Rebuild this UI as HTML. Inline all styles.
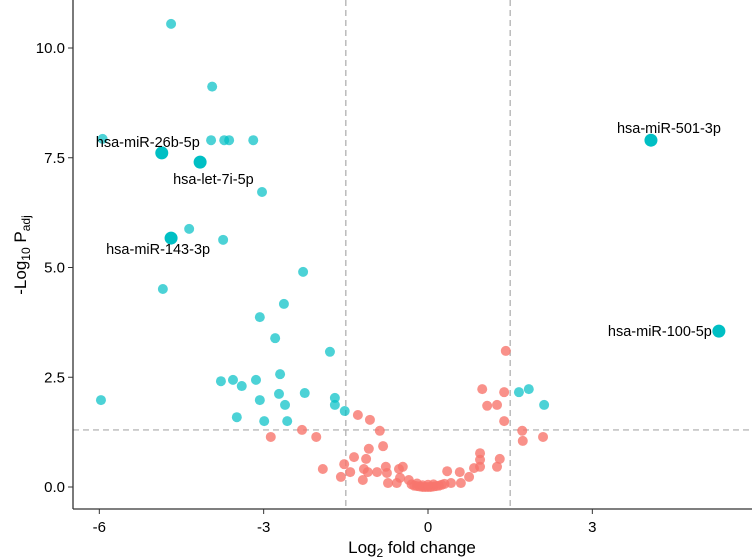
<!DOCTYPE html>
<html><head><meta charset="utf-8"><style>
body{margin:0;background:#fff}
svg{display:block;font-family:"Liberation Sans",Arial,sans-serif}
</style></head><body>
<svg id="chart" width="752" height="558">
<g id="grid"></g><g id="pts"></g><g id="axes"></g><g id="labels"></g>
<text x="412" y="553" text-anchor="middle" font-size="17">Log<tspan font-size="12" dy="4">2</tspan><tspan dy="-4"> fold change</tspan></text>
<text transform="translate(26,255) rotate(-90)" text-anchor="middle" font-size="17">-Log<tspan font-size="12" dy="4">10</tspan><tspan dy="-4"> P</tspan><tspan font-size="12" dy="4">adj</tspan></text>
</svg>
<script>
const blueX=[-4.69,-3.94,-5.94,-3.96,-3.72,-3.63,-3.19,-3.03,-4.36,-3.74,-2.28,-4.84,-2.63,-3.07,-2.79,-1.79,-2.70,-5.97,-3.78,-3.56,-3.40,-3.14,-3.07,-3.49,-2.99,-2.72,-2.61,-2.57,-2.25,-1.70,-1.70,-1.52,1.66,1.84,2.12];
const blueY=[10.55,9.12,7.93,7.9,7.9,7.9,7.9,6.72,5.88,5.63,4.90,4.51,4.17,3.87,3.39,3.08,2.57,1.98,2.41,2.44,2.30,2.44,1.98,1.59,1.50,2.12,1.87,1.50,2.14,2.03,1.87,1.73,2.16,2.23,1.87];
const redX=[1.42,0.99,1.39,1.08,1.26,1.39,1.72,1.73,2.10,-2.30,-2.04,-2.87,-1.28,-1.06,-0.88,-1.08,-0.82,-1.35,-1.13,-1.92,-1.53,-1.59,-1.42,-1.19,-1.17,-1.10,-0.93,-0.77,-0.75,-0.73,-0.57,-0.53,-0.46,-0.51,-0.35,0.95,0.95,0.95,0.84,1.31,1.26,0.35,0.58,0.75,0.60,0.42,-0.30,-0.25,-0.2,-0.15,-0.1,-0.05,0,0.05,0.1,0.15,0.2,0.25,0.3,-0.2,0.1,-0.1,0];
const redY=[3.10,2.23,2.16,1.85,1.87,1.50,1.28,1.05,1.14,1.30,1.14,1.14,1.64,1.53,1.28,0.87,0.93,0.68,0.64,0.41,0.52,0.23,0.34,0.16,0.41,0.34,0.34,0.46,0.32,0.09,0.09,0.41,0.46,0.21,0.16,0.77,0.62,0.46,0.43,0.64,0.46,0.36,0.34,0.23,0.09,0.09,0.06,0.03,0.02,0.01,0,0,0,0,0.01,0.02,0.03,0.05,0.07,0.08,0.06,0.04,0.05];
const hiNames=["hsa-miR-26b-5p","hsa-let-7i-5p","hsa-miR-143-3p","hsa-miR-501-3p","hsa-miR-100-5p"];
const hiX=[-4.86,-4.16,-4.69,4.07,5.31];
const hiY=[7.61,7.40,5.67,7.90,3.55];
const xTicks=[-6,-3,0,3];
const yTicks=[0,2.5,5,7.5,10];
const xCut=[-1.5,1.5], yCut=1.3;

const NS="http://www.w3.org/2000/svg";
const sx=v=>428+v*54.78, sy=v=>487-v*43.9;
function mk(tag,attrs,parent){const e=document.createElementNS(NS,tag);for(const k in attrs)e.setAttribute(k,attrs[k]);parent.appendChild(e);return e;}
const grid=document.getElementById('grid'),pts=document.getElementById('pts'),axes=document.getElementById('axes'),labs=document.getElementById('labels');
xCut.forEach(v=>{const l=mk('line',{x1:sx(v),x2:sx(v),y1:0,y2:509,stroke:'#aaa','stroke-dasharray':'6,4','stroke-width':1.2},grid);

});
const hl=mk('line',{x1:73,x2:752,y1:sy(yCut),y2:sy(yCut),stroke:'#aaa','stroke-dasharray':'6,4','stroke-width':1.2},grid);


redX.forEach((x,i)=>{const c=mk('circle',{cx:sx(x),cy:sy(redY[i]),r:5,fill:'#F8766D','fill-opacity':0.8},pts);

});
blueX.forEach((x,i)=>{const c=mk('circle',{cx:sx(x),cy:sy(blueY[i]),r:5,fill:'#00BFC4','fill-opacity':0.7},pts);

});
const lblPos=[[38,-6,'end'],[-27,22,'start'],[39,16,'end'],[18,-7,'middle'],[-7,5,'end']];
hiX.forEach((x,i)=>{const c=mk('circle',{cx:sx(x),cy:sy(hiY[i]),r:6.5,fill:'#00BFC4'},pts);


const p=lblPos[i];
const t=mk('text',{x:sx(x)+p[0],y:sy(hiY[i])+p[1],'text-anchor':p[2],'font-size':14.5,fill:'#000'},labs);
t.textContent=hiNames[i];

});
mk('line',{x1:73,x2:73,y1:0,y2:509,stroke:'#333','stroke-width':1.3},axes);
mk('line',{x1:73,x2:752,y1:509,y2:509,stroke:'#333','stroke-width':1.3},axes);
xTicks.forEach(v=>{mk('line',{x1:sx(v),x2:sx(v),y1:509,y2:514,stroke:'#333'},axes);
const t=mk('text',{x:sx(v),y:532,'text-anchor':'middle','font-size':15,fill:'#000'},axes);t.textContent=v;

});
yTicks.forEach(v=>{mk('line',{x1:68,x2:73,y1:sy(v),y2:sy(v),stroke:'#333'},axes);
const t=mk('text',{x:65,y:sy(v)+5,'text-anchor':'end','font-size':15,fill:'#000'},axes);t.textContent=v.toFixed(1);

});
</script>
</body></html>
